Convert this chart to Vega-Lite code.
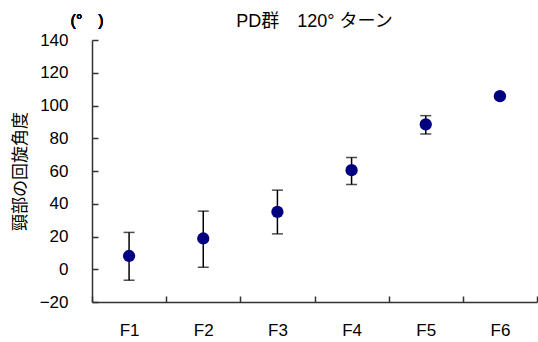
{
  "$schema": "https://vega.github.io/schema/vega-lite/v6.json",
  "width": 445,
  "height": 262,
  "autosize": {"type": "none"},
  "padding": {"left": 92, "top": 40, "right": 1, "bottom": 40},
  "background": "white",
  "title": {"text": "PD群　120° ターン", "frame": "group", "fontSize": 18, "font": "Liberation Sans, Noto Sans CJK JP", "fontWeight": "normal", "color": "black", "offset": 0, "dy": 18},
  "data": {"values": [
    {"F": "F1", "mean": 8.1, "lo": -6.7, "hi": 22.5},
    {"F": "F2", "mean": 18.8, "lo": 1.2, "hi": 35.5},
    {"F": "F3", "mean": 35.0, "lo": 21.6, "hi": 48.3},
    {"F": "F4", "mean": 60.5, "lo": 51.8, "hi": 68.2},
    {"F": "F5", "mean": 88.5, "lo": 82.6, "hi": 93.8},
    {"F": "F6", "mean": 105.7, "lo": 104.6, "hi": 106.8}
  ]},
  "encoding": {
    "x": {"field": "F", "type": "nominal", "sort": null,
      "scale": {"paddingInner": 0, "paddingOuter": 0},
      "axis": {"title": null, "labelAngle": 0, "tickBand": "extent", "tickSize": -6, "labelPadding": 26}
    }
  },
  "layer": [
    {"mark": {"type": "rule", "color": "black", "strokeWidth": 1.5},
     "encoding": {"y": {"field": "lo", "type": "quantitative",
       "scale": {"domain": [-20, 140], "nice": false, "zero": false},
       "axis": {"title": "頸部の回旋角度", "values": [-20, 0, 20, 40, 60, 80, 100, 120, 140], "tickCount": 9, "labelOverlap": false, "labelBound": false, "grid": false, "tickSize": -6, "labelPadding": 30, "titlePadding": 10}
     }, "y2": {"field": "hi"}}},
    {"mark": {"type": "tick", "color": "black", "size": 11, "thickness": 1.5},
     "encoding": {"y": {"field": "lo", "type": "quantitative",
       "axis": {"title": "頸部の回旋角度", "values": [-20, 0, 20, 40, 60, 80, 100, 120, 140], "tickCount": 9, "labelOverlap": false, "labelBound": false, "grid": false, "tickSize": -6, "labelPadding": 30, "titlePadding": 10}}}},
    {"mark": {"type": "tick", "color": "black", "size": 11, "thickness": 1.5},
     "encoding": {"y": {"field": "hi", "type": "quantitative",
       "axis": {"title": "頸部の回旋角度", "values": [-20, 0, 20, 40, 60, 80, 100, 120, 140], "tickCount": 9, "labelOverlap": false, "labelBound": false, "grid": false, "tickSize": -6, "labelPadding": 30, "titlePadding": 10}}}},
    {"mark": {"type": "point", "filled": true, "shape": "circle", "size": 150, "color": "#000080", "opacity": 1},
     "encoding": {"y": {"field": "mean", "type": "quantitative",
       "axis": {"title": "頸部の回旋角度", "values": [-20, 0, 20, 40, 60, 80, 100, 120, 140], "tickCount": 9, "labelOverlap": false, "labelBound": false, "grid": false, "tickSize": -6, "labelPadding": 30, "titlePadding": 10}}}},
    {"mark": {"type": "text", "text": "(°　)", "fontSize": 16, "font": "Liberation Sans, Noto Sans CJK JP", "fontWeight": "normal", "color": "black", "dx": -42, "dy": -19},
     "encoding": {"x": {"datum": "F1"}, "y": {"datum": 140}}}
  ],
  "config": {
    "view": {"stroke": null},
    "axis": {
      "domainColor": "#333333", "domainWidth": 1.5, "tickColor": "#333333", "tickWidth": 1.5,
      "labelFont": "Liberation Sans, Noto Sans CJK JP", "labelFontSize": 17, "labelColor": "black",
      "titleFont": "Noto Sans CJK JP", "titleFontSize": 17, "titleFontWeight": "normal", "titleColor": "black"
    },
    "axisY": {"labelOverlap": false}
  }
}
